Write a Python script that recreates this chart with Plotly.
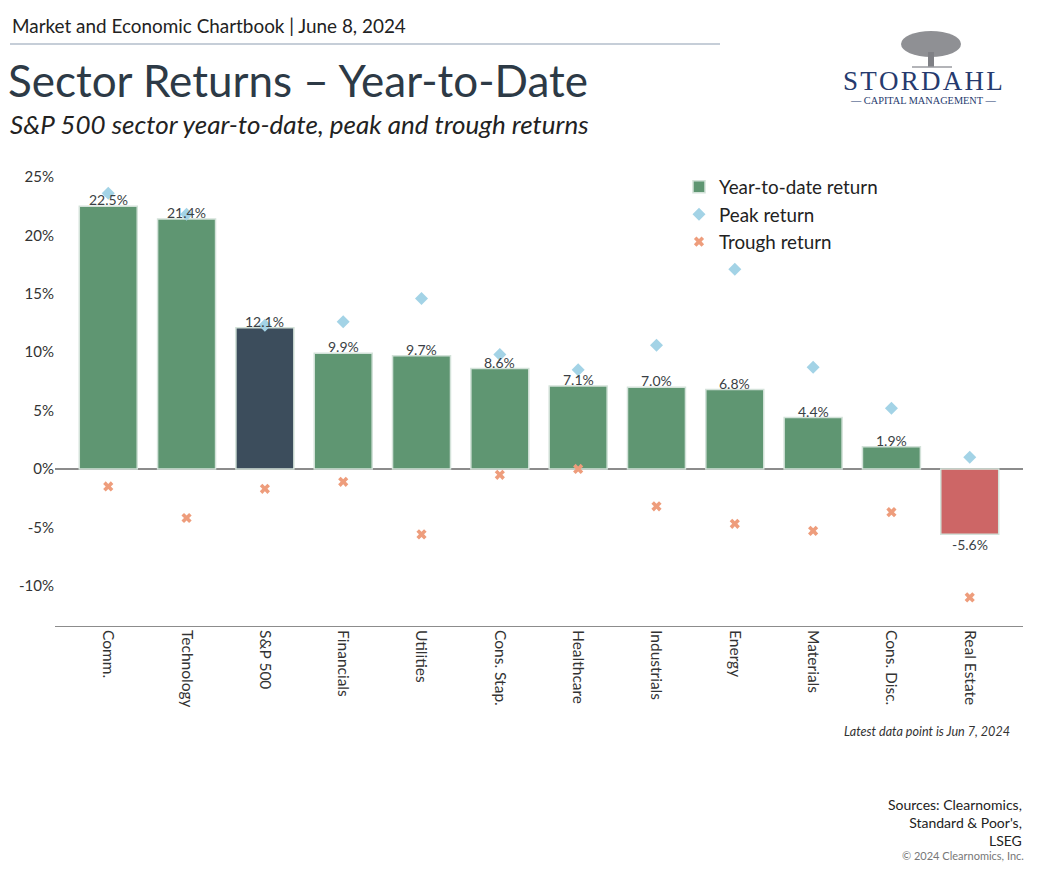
import plotly.graph_objects as go

# Sector data (percent)
sectors = ['Comm.', 'Technology', 'S&P 500', 'Financials', 'Utilities', 'Cons. Stap.',
           'Healthcare', 'Industrials', 'Energy', 'Materials', 'Cons. Disc.', 'Real Estate']
ytd = [22.5, 21.4, 12.1, 9.9, 9.7, 8.6, 7.1, 7.0, 6.8, 4.4, 1.9, -5.6]
peak = [23.6, 21.8, 12.3, 12.6, 14.6, 9.8, 8.5, 10.6, 17.1, 8.7, 5.2, 1.0]
trough = [-1.5, -4.2, -1.7, -1.1, -5.6, -0.5, 0.0, -3.2, -4.7, -5.3, -3.7, -11.0]
y_ticks = [-10, -5, 0, 5, 10, 15, 20, 25]

GREEN = '#5f9672'
NAVY = '#3c4d5c'
RED = '#cd6666'
bar_colors = [NAVY if s == 'S&P 500' else (RED if v < 0 else GREEN) for s, v in zip(sectors, ytd)]

FONT = 'Lato'
TXT = '#2f3a44'

# figure geometry, used to place the header/footer texts in paper units
W, H = 1050, 870
L, R, T, B = 47, 35, 162, 252
PW, PH = W - L - R, H - T - B
OFF = 8  # page body margin in the screenshot


def px(x):
    return (x - OFF - L) / PW


def py(y):
    return 1 - (y - OFF - T) / PH


fig = go.Figure()

fig.add_trace(go.Bar(
    x=sectors, y=ytd, name='Year-to-date return',
    marker=dict(color=bar_colors, line=dict(color='#d3e2d9', width=1.5)),
))

fig.add_trace(go.Scatter(
    x=sectors, y=peak, mode='markers', name='Peak return',
    marker=dict(symbol='diamond', size=10, color='#a3d3e6'),
    cliponaxis=False,
))

fig.add_trace(go.Scatter(
    x=sectors, y=trough, mode='markers', name='Trough return',
    marker=dict(symbol='x', size=9, color='#ee9d7c'),
    cliponaxis=False,
))

# value labels sitting on the bar ends
for s, v in zip(sectors, ytd):
    fig.add_annotation(x=s, y=v, text=f'{v:.1f}%', showarrow=False,
                       yanchor='bottom' if v >= 0 else 'top', yshift=-4 if v >= 0 else 0,
                       font=dict(size=14, color='#3a3f45'))

fig.update_layout(
    width=W, height=H,
    margin=dict(l=L, r=R, t=T, b=B),
    paper_bgcolor='white', plot_bgcolor='white',
    font=dict(family=FONT, color=TXT),
    bargap=0.26,
    showlegend=True,
    legend=dict(x=px(679), y=py(168), xanchor='left', yanchor='top',
                font=dict(size=18.8, color='#222'), bgcolor='rgba(0,0,0,0)',
                tracegroupgap=0, itemwidth=30),
    xaxis=dict(range=[-0.68, 11.68], tickangle=90, showgrid=False,
               showline=True, linecolor='#8c8c8c', linewidth=1,
               ticks='', tickfont=dict(size=15.5, color='#333'), fixedrange=True),
    yaxis=dict(range=[-13.45, 25.6], tickvals=y_ticks,
               ticktext=[f'{v}%' for v in y_ticks], showgrid=False,
               zeroline=True, zerolinecolor='#8c8c8c', zerolinewidth=1.5,
               showline=False, ticks='', tickfont=dict(size=15, color='#333')),
)

# header
fig.add_annotation(text='Market and Economic Chartbook | June 8, 2024', xref='paper', yref='paper',
                   x=px(10), y=py(26), xanchor='left', yanchor='middle', showarrow=False,
                   font=dict(size=18.9, color='#222'))
fig.add_shape(type='line', xref='paper', yref='paper', x0=px(10), x1=px(720), y0=py(44), y1=py(44),
              line=dict(color='#8e9db2', width=1.2))
fig.add_annotation(text='Sector Returns – Year-to-Date', xref='paper', yref='paper',
                   x=px(6), y=py(80), xanchor='left', yanchor='middle', showarrow=False,
                   font=dict(size=44, color='#2d3a46'))
fig.add_annotation(text='<i>S&P 500 sector year-to-date, peak and trough returns</i>', xref='paper', yref='paper',
                   x=px(8), y=py(124), xanchor='left', yanchor='middle', showarrow=False,
                   font=dict(size=26, color='#222'))

# logo (approximation of the tree and wordmark)
fig.add_shape(type='circle', xref='paper', yref='paper', x0=px(901), x1=px(961), y0=py(57), y1=py(31),
              fillcolor='#8f9094', line=dict(width=0))
fig.add_shape(type='rect', xref='paper', yref='paper', x0=px(928), x1=px(934), y0=py(67), y1=py(52),
              fillcolor='#7f8085', line=dict(width=0))
fig.add_shape(type='line', xref='paper', yref='paper', x0=px(912), x1=px(952), y0=py(67), y1=py(67),
              line=dict(color='#9a9ba0', width=1.5))
fig.add_annotation(text='\u200a'.join('STORDAHL'), xref='paper', yref='paper', x=px(923), y=py(81),
                   xanchor='center', yanchor='middle', showarrow=False,
                   font=dict(size=27, color='#263a6e', family='Liberation Serif'))
fig.add_annotation(text='— CAPITAL MANAGEMENT —', xref='paper', yref='paper', x=px(923), y=py(101),
                   xanchor='center', yanchor='middle', showarrow=False,
                   font=dict(size=10.3, color='#263a6e', family='Liberation Serif'))

# footer
fig.add_annotation(text='<i>Latest data point is Jun 7, 2024</i>', xref='paper', yref='paper',
                   x=px(1012), y=py(731), xanchor='right', yanchor='middle', showarrow=False,
                   font=dict(size=12.6, color='#333'))
fig.add_annotation(text="Sources: Clearnomics,<br>Standard & Poor's,<br>LSEG", xref='paper', yref='paper',
                   x=px(1024), y=py(822), xanchor='right', yanchor='middle', showarrow=False, align='right',
                   font=dict(size=14, color='#222'))
fig.add_annotation(text='© 2024 Clearnomics, Inc.', xref='paper', yref='paper',
                   x=px(1026), y=py(855), xanchor='right', yanchor='middle', showarrow=False,
                   font=dict(size=11, color='#777'))

fig.write_html('out.html')
